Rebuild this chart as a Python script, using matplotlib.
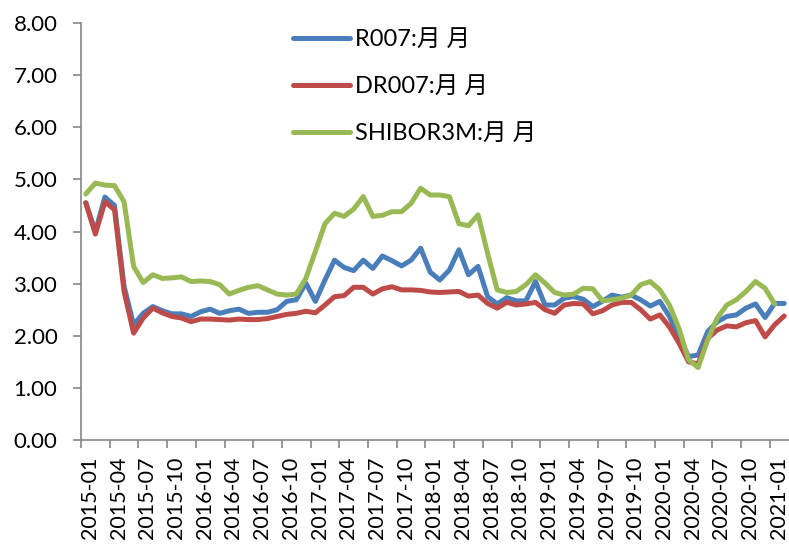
import matplotlib
matplotlib.use("Agg")
from matplotlib import pyplot as plt
from matplotlib.transforms import ScaledTranslation
import numpy as np

plt.rcParams['font.family'] = ['Lato', 'Noto Sans CJK SC', 'DejaVu Sans']

# monthly, 2015-01 .. 2021-02
months = ['%d-%02d' % (2015 + m // 12, m % 12 + 1) for m in range(74)]

r007 = [4.55, 4.00, 4.66, 4.50, 2.95, 2.21, 2.43, 2.56, 2.48, 2.42,
        2.42, 2.37, 2.46, 2.51, 2.43, 2.48, 2.51, 2.43, 2.45, 2.45,
        2.50, 2.66, 2.69, 3.01, 2.66, 3.07, 3.45, 3.31, 3.25, 3.45,
        3.29, 3.53, 3.44, 3.34, 3.45, 3.68, 3.22, 3.07, 3.26, 3.65,
        3.17, 3.33, 2.75, 2.61, 2.73, 2.67, 2.67, 3.04, 2.59, 2.59,
        2.72, 2.75, 2.70, 2.56, 2.66, 2.78, 2.74, 2.78, 2.69, 2.57,
        2.66, 2.37, 1.98, 1.60, 1.63, 2.08, 2.27, 2.37, 2.40, 2.53,
        2.61, 2.35, 2.62, 2.62]

dr007 = [4.55, 3.95, 4.57, 4.42, 2.85, 2.05, 2.34, 2.53, 2.44, 2.37,
         2.34, 2.27, 2.32, 2.32, 2.31, 2.30, 2.32, 2.31, 2.31, 2.33,
         2.37, 2.41, 2.43, 2.47, 2.44, 2.59, 2.75, 2.77, 2.93, 2.93,
         2.80, 2.90, 2.94, 2.88, 2.88, 2.87, 2.84, 2.83, 2.84, 2.85,
         2.76, 2.78, 2.62, 2.53, 2.64, 2.59, 2.61, 2.64, 2.50, 2.43,
         2.59, 2.62, 2.61, 2.42, 2.48, 2.59, 2.64, 2.64, 2.50, 2.32,
         2.40, 2.17, 1.86, 1.50, 1.46, 1.95, 2.11, 2.19, 2.17, 2.25,
         2.29, 1.98, 2.21, 2.38]

# no value yet for the last month
shibor3m = [4.72, 4.93, 4.89, 4.88, 4.57, 3.33, 3.02, 3.17, 3.10, 3.11,
            3.13, 3.04, 3.05, 3.04, 2.98, 2.80, 2.87, 2.93, 2.96, 2.88,
            2.80, 2.78, 2.80, 3.10, 3.62, 4.15, 4.35, 4.29, 4.43, 4.67,
            4.29, 4.31, 4.38, 4.38, 4.54, 4.83, 4.70, 4.70, 4.67, 4.15,
            4.11, 4.32, 3.58, 2.88, 2.83, 2.85, 2.98, 3.17, 3.01, 2.83,
            2.78, 2.80, 2.91, 2.90, 2.67, 2.69, 2.72, 2.78, 2.98, 3.04,
            2.88, 2.59, 2.14, 1.54, 1.39, 1.92, 2.34, 2.59, 2.69, 2.85,
            3.04, 2.91, 2.61, np.nan]

labels = ['R007:月 月', 'DR007:月 月', 'SHIBOR3M:月 月']
colors = ['#4a7ebb', '#be4b48', '#98b954']

fig = plt.figure(figsize=(7.89, 5.45), dpi=100)
ax = fig.add_axes([81 / 789, 105 / 545, 708 / 789, 417 / 545])

x = np.arange(len(months))
for y, lab, c in zip([r007, dr007, shibor3m], labels, colors):
    ax.plot(x, y, color=c, lw=3.6, label=lab, solid_capstyle='round')

ax.set_xlim(-0.5, len(months) - 0.5)
ax.set_ylim(0, 8)
ax.set_yticks(np.arange(0, 9, 1))
ax.set_yticklabels(['%.2f' % v for v in np.arange(0, 9, 1)])

ax.set_xticks(x[::3])
ax.set_xticklabels(months[::3], rotation=90)
ax.set_xticks(np.arange(-0.5, len(months), 3), minor=True)
ax.tick_params(axis='x', which='major', length=0, pad=12, labelsize=15.5)
ax.tick_params(axis='x', which='minor', length=6, width=1.2, color='#868686')
ax.tick_params(axis='y', length=6, width=1.2, color='#868686', pad=11,
               labelsize=16)

# nudge the rotated month labels a little to the right
shift = ScaledTranslation(3 / 72, 0, fig.dpi_scale_trans)
for t in ax.get_xticklabels():
    t.set_transform(t.get_transform() + shift)

for s in ['top', 'right']:
    ax.spines[s].set_visible(False)
for s in ['left', 'bottom']:
    ax.spines[s].set_color('#868686')
    ax.spines[s].set_linewidth(1.2)

ax.legend(loc='upper left', bbox_to_anchor=(272 / 789, 1 - 8 / 545),
          bbox_transform=fig.transFigure, frameon=False, fontsize=17,
          handlelength=2.4, handletextpad=0.2, labelspacing=1.1)

fig.savefig('out.png', dpi=100)
